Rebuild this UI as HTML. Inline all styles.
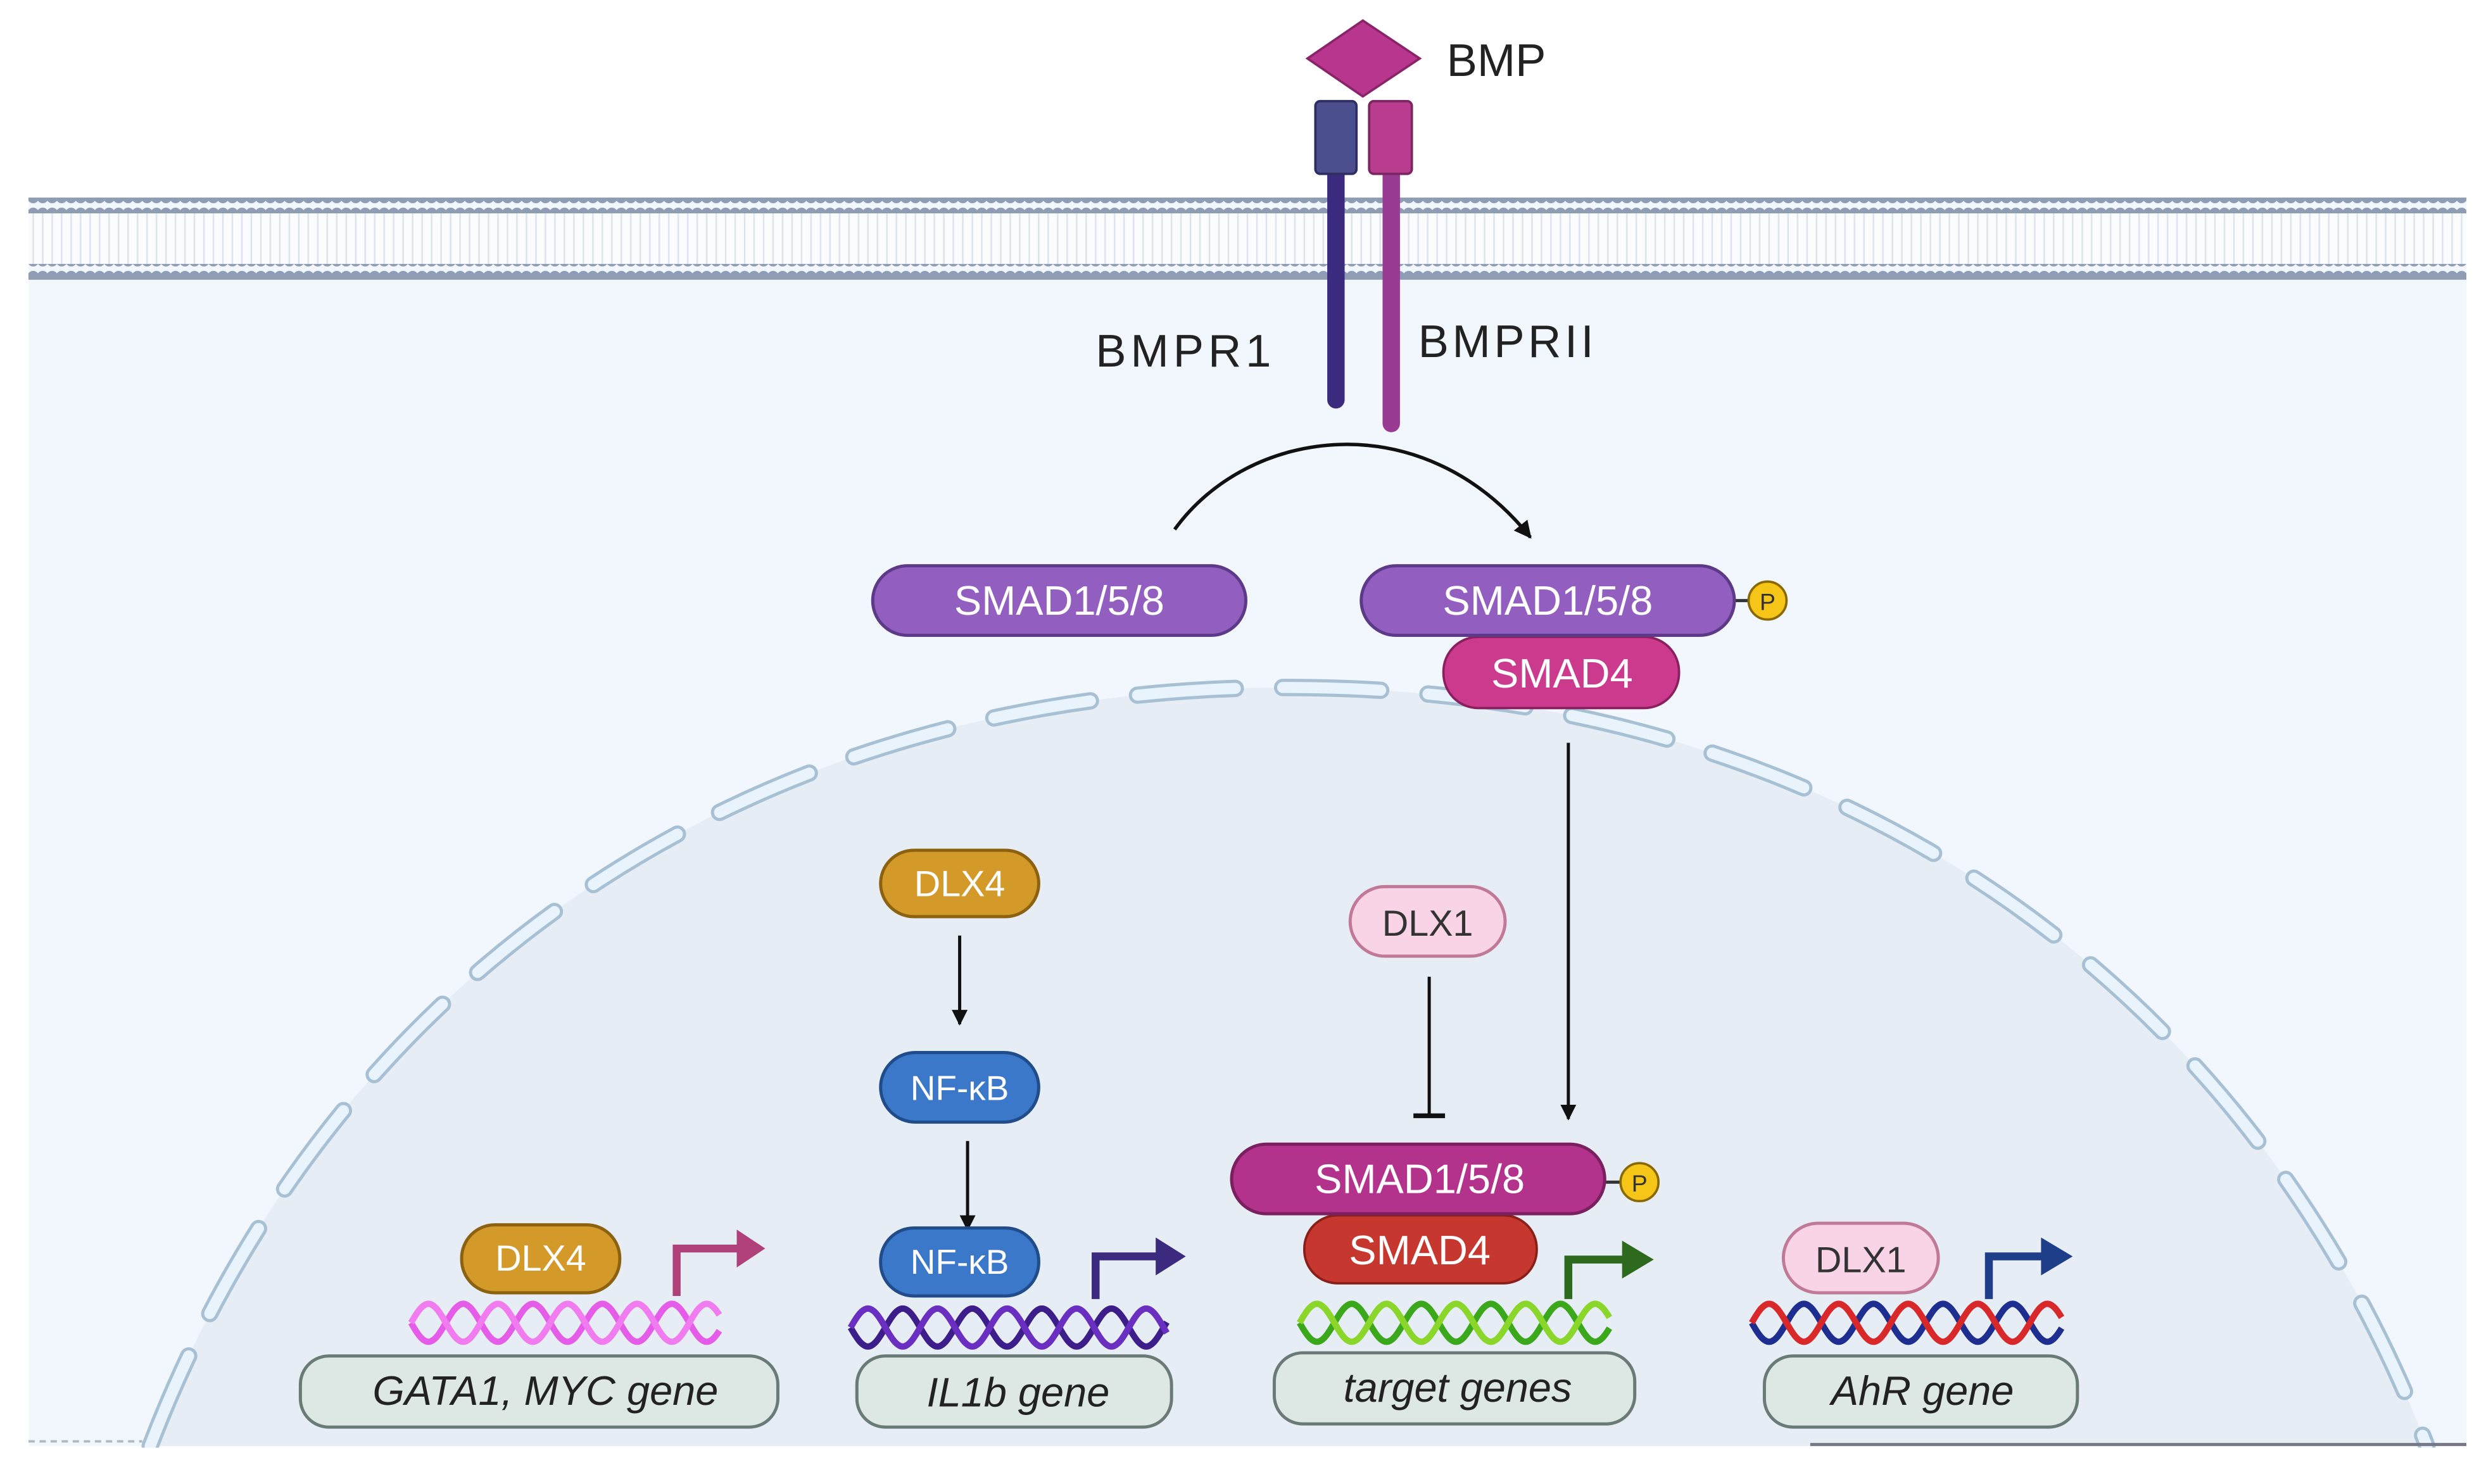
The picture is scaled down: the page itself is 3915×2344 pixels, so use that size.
<!DOCTYPE html>
<html><head><meta charset="utf-8"><style>
html,body{margin:0;padding:0;background:#fff}
svg{display:block}
text{font-family:"Liberation Sans",sans-serif}
</style></head><body>
<svg id="s" width="3915" height="2344" viewBox="0 0 1568 939" preserveAspectRatio="none" xmlns="http://www.w3.org/2000/svg">
<defs>
<pattern id="dots" x="0" y="0" width="6" height="10" patternUnits="userSpaceOnUse">
<circle cx="3" cy="5" r="3.6" fill="#8e9db3"/>
</pattern>
<pattern id="tails" x="0" y="0" width="6" height="10" patternUnits="userSpaceOnUse">
<line x1="3" y1="0" x2="3" y2="10" stroke="#dde3ec" stroke-width="1"/>
</pattern>
<marker id="ah" viewBox="0 0 10 10" refX="9" refY="5" markerWidth="5" markerHeight="5" orient="auto"><path d="M0,0 L10,5 L0,10 z" fill="#111"/></marker>
</defs>
<rect x="0" y="0" width="1568" height="939" fill="#fff"/>
<rect x="18" y="125" width="1542" height="790" fill="#f1f7fc"/>
<!-- membrane -->
<rect x="18" y="134" width="1542" height="34" fill="#fbfcfe"/>
<rect x="18" y="134" width="1542" height="34" fill="url(#tails)"/>
<rect x="18" y="125" width="1542" height="10" fill="url(#dots)"/>
<rect x="18" y="167" width="1542" height="10" fill="url(#dots)"/>
<!-- nucleus -->
<path d="M95,915 C200,640 450,435 815,435 C1180,435 1430,640 1535,915 Z" fill="#e6edf5"/>
<path d="M95,915 C200,640 450,435 815,435 C1180,435 1430,640 1535,915" fill="none" stroke="#a7c0d4" stroke-width="11" stroke-dasharray="62,30" stroke-linecap="round"/>
<path d="M95,915 C200,640 450,435 815,435 C1180,435 1430,640 1535,915" fill="none" stroke="#e8f3fb" stroke-width="7" stroke-dasharray="62,30" stroke-linecap="round"/>
<line x1="18" y1="912" x2="90" y2="912" stroke="#b0b8c0" stroke-width="1.5" stroke-dasharray="4,3"/>
<line x1="1145" y1="914" x2="1560" y2="914" stroke="#778" stroke-width="2"/>
<rect x="18" y="916" width="1550" height="23" fill="#fff"/>
<!-- receptors -->
<line x1="845" y1="108" x2="845" y2="253" stroke="#3b2a7d" stroke-width="11" stroke-linecap="round"/>
<line x1="880" y1="108" x2="880" y2="268" stroke="#9a3b93" stroke-width="11" stroke-linecap="round"/>
<rect x="832" y="64" width="26" height="46" rx="3" fill="#4b4f8d" stroke="#2e2f60" stroke-width="1.5"/>
<rect x="866" y="64" width="27" height="46" rx="3" fill="#b93c8e" stroke="#7a2660" stroke-width="1.5"/>
<path d="M862,13 L898,37 L862,61 L827,37 Z" fill="#b8368e" stroke="#8a2468" stroke-width="1.5"/>
<text x="915" y="48" font-size="29" fill="#222">BMP</text>
<text x="693" y="232" font-size="29" fill="#222" textLength="111">BMPR1</text>
<text x="897" y="226" font-size="29" fill="#222" textLength="111">BMPRII</text>
<!-- arc -->
<path d="M743,335 C790,270 900,255 968,340" fill="none" stroke="#111" stroke-width="2.2" marker-end="url(#ah)"/>
<!-- SMADs cytoplasm -->
<rect x="552" y="358" width="236" height="44" rx="22" fill="#925fc0" stroke="#5d3a88" stroke-width="2"/>
<text x="670" y="389" font-size="26" fill="#fff" text-anchor="middle">SMAD1/5/8</text>
<line x1="1096" y1="380" x2="1106" y2="380" stroke="#333" stroke-width="2"/>
<circle cx="1118" cy="380" r="12" fill="#f5c518" stroke="#8a6a00" stroke-width="1.5"/>
<text x="1118" y="386" font-size="15" fill="#333" text-anchor="middle">P</text>
<rect x="913" y="403" width="149" height="45" rx="22" fill="#cc3a8e" stroke="#8a2060" stroke-width="1.5"/>
<text x="988" y="435" font-size="26" fill="#fff" text-anchor="middle">SMAD4</text>
<rect x="861" y="358" width="236" height="44" rx="22" fill="#925fc0" stroke="#5d3a88" stroke-width="2"/>
<text x="979" y="389" font-size="26" fill="#fff" text-anchor="middle">SMAD1/5/8</text>
<!-- arrows nucleus -->
<line x1="992" y1="470" x2="992" y2="708" stroke="#111" stroke-width="2" marker-end="url(#ah)"/>
<line x1="904" y1="618" x2="904" y2="706" stroke="#111" stroke-width="2"/>
<line x1="894" y1="706" x2="914" y2="706" stroke="#111" stroke-width="3"/>
<rect x="854" y="561" width="98" height="44" rx="22" fill="#f9d3e6" stroke="#c07a98" stroke-width="2"/>
<text x="903" y="592" font-size="23" fill="#333" text-anchor="middle">DLX1</text>
<rect x="557" y="538" width="100" height="42" rx="21" fill="#d39a2a" stroke="#8c6210" stroke-width="2"/>
<text x="607" y="567" font-size="23" fill="#fff" text-anchor="middle">DLX4</text>
<line x1="607" y1="592" x2="607" y2="648" stroke="#111" stroke-width="2" marker-end="url(#ah)"/>
<rect x="557" y="666" width="100" height="44" rx="22" fill="#3b78c9" stroke="#214c8a" stroke-width="2"/>
<text x="607" y="696" font-size="22" fill="#fff" text-anchor="middle">NF-κB</text>
<line x1="612" y1="722" x2="612" y2="778" stroke="#111" stroke-width="2" marker-end="url(#ah)"/>
<rect x="557" y="777" width="100" height="43" rx="21" fill="#3b78c9" stroke="#214c8a" stroke-width="2"/>
<text x="607" y="806" font-size="22" fill="#fff" text-anchor="middle">NF-κB</text>
<rect x="292" y="775" width="100" height="43" rx="21" fill="#d39a2a" stroke="#8c6210" stroke-width="2"/>
<text x="342" y="804" font-size="23" fill="#fff" text-anchor="middle">DLX4</text>
<!-- nuclear SMAD complex -->
<line x1="1014" y1="748" x2="1025" y2="748" stroke="#333" stroke-width="2"/>
<circle cx="1037" cy="748" r="12" fill="#f5c518" stroke="#8a6a00" stroke-width="1.5"/>
<text x="1037" y="754" font-size="15" fill="#333" text-anchor="middle">P</text>
<rect x="825" y="769" width="147" height="43" rx="21" fill="#c6372f" stroke="#8a1f1a" stroke-width="1.5"/>
<text x="898" y="800" font-size="26" fill="#fff" text-anchor="middle">SMAD4</text>
<rect x="779" y="724" width="236" height="44" rx="22" fill="#b3338c" stroke="#7a1f60" stroke-width="2"/>
<text x="898" y="755" font-size="26" fill="#fff" text-anchor="middle">SMAD1/5/8</text>
<rect x="1128" y="774" width="98" height="44" rx="22" fill="#f9d3e6" stroke="#c07a98" stroke-width="2"/>
<text x="1177" y="805" font-size="23" fill="#333" text-anchor="middle">DLX1</text>
<!-- promoter arrows -->
<path d="M428,820 V790 H468" fill="none" stroke="#b0407a" stroke-width="5"/><path d="M466,778 L484,790 L466,802 Z" fill="#b0407a"/>
<path d="M693,822 V795 H733" fill="none" stroke="#3b2a7d" stroke-width="5"/><path d="M731,783 L750,795 L731,807 Z" fill="#3b2a7d"/>
<path d="M992,822 V797 H1028" fill="none" stroke="#2d6a1e" stroke-width="5"/><path d="M1026,785 L1046,797 L1026,809 Z" fill="#2d6a1e"/>
<path d="M1258,822 V795 H1293" fill="none" stroke="#1f3e8a" stroke-width="5"/><path d="M1291,783 L1311,795 L1291,807 Z" fill="#1f3e8a"/>
<g id="helix"></g>
<!-- gene boxes -->
<rect x="190" y="858" width="302" height="45" rx="18" fill="#dde8e4" stroke="#6a7a77" stroke-width="2"/>
<text x="345" y="889" font-size="26" font-style="italic" fill="#222" text-anchor="middle">GATA1, MYC gene</text>
<rect x="542" y="858" width="199" height="45" rx="18" fill="#dde8e4" stroke="#6a7a77" stroke-width="2"/>
<text x="644" y="890" font-size="26" font-style="italic" fill="#222" text-anchor="middle">IL1b gene</text>
<rect x="806" y="856" width="228" height="45" rx="18" fill="#dde8e4" stroke="#6a7a77" stroke-width="2"/>
<text x="922" y="887" font-size="26" font-style="italic" fill="#222" text-anchor="middle">target genes</text>
<rect x="1116" y="858" width="198" height="45" rx="18" fill="#dde8e4" stroke="#6a7a77" stroke-width="2"/>
<text x="1216" y="889" font-size="26" font-style="italic" fill="#222" text-anchor="middle">AhR gene</text>
</svg>
<script>
(function(){
var g=document.getElementById('helix');
function helix(x0,x1,yc,c1,c2){
 var amp=12,per=44;
 [[0,c1],[Math.PI,c2]].forEach(function(p){
  var d='';
  for(var x=x0;x<=x1;x+=1){var y=yc+amp*Math.sin((x-x0)/per*2*Math.PI+p[0]);d+=(x==x0?'M':'L')+x+','+y.toFixed(1);}
  var e=document.createElementNS('http://www.w3.org/2000/svg','path');
  e.setAttribute('d',d);e.setAttribute('fill','none');e.setAttribute('stroke',p[1]);e.setAttribute('stroke-width','4');
  g.appendChild(e);
 });
}
helix(260,455,837,'#e45ce8','#f07cf0');
helix(538,738,840,'#3c1d8a','#6a2fc0');
helix(822,1018,837,'#3aa81a','#8ad62a');
helix(1108,1304,837,'#1d2d90','#d8282a');
})();
</script>
</body></html>
